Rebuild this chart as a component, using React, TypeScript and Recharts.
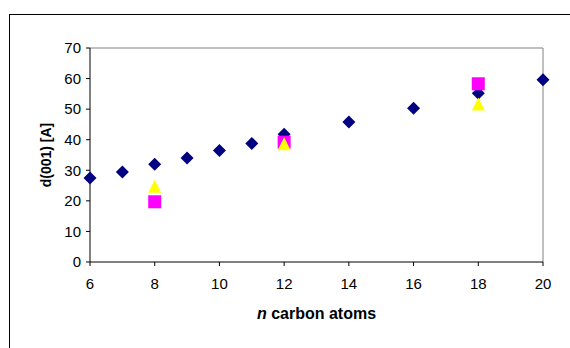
import React from "react";
import { ScatterChart, Scatter, XAxis, YAxis, ReferenceLine, Label } from "recharts";

const carbonBlue = [6, 7, 8, 9, 10, 11, 12, 14, 16, 18, 20];
const spacingBlue = [27.5, 29.4, 32, 34, 36.5, 38.8, 41.8, 45.8, 50.3, 55.2, 59.6];
const carbonPink = [8, 12, 18];
const spacingPink = [19.7, 39.2, 58.3];
const carbonYellow = [8, 12, 18];
const spacingYellow = [24.8, 38.7, 51.7];
const xTicks = [6, 8, 10, 12, 14, 16, 18, 20];
const yTicks = [0, 10, 20, 30, 40, 50, 60, 70];

const toPoints = (xs: number[], ys: number[]) => xs.map((n, i) => ({ n, d: ys[i] }));
const blueData = toPoints(carbonBlue, spacingBlue);
const pinkData = toPoints(carbonPink, spacingPink);
const yellowData = toPoints(carbonYellow, spacingYellow);

const font = "'Liberation Sans', Arial, sans-serif";

const Diamond = (p: any) => (
  <polygon
    points={`${p.cx},${p.cy - 6.5} ${p.cx + 6.5},${p.cy} ${p.cx},${p.cy + 6.5} ${p.cx - 6.5},${p.cy}`}
    fill="#000080"
  />
);
const Square = (p: any) => <rect x={p.cx - 6.5} y={p.cy - 6.5} width={13} height={13} fill="#FF00FF" />;
const Triangle = (p: any) => (
  <polygon
    points={`${p.cx},${p.cy - 6.5} ${p.cx + 6.5},${p.cy + 6.5} ${p.cx - 6.5},${p.cy + 6.5}`}
    fill="#FFFF00"
  />
);

const XTitle = ({ viewBox }: any) => (
  <text
    x={viewBox.x + viewBox.width / 2}
    y={viewBox.y + 57}
    textAnchor="middle"
    fontFamily={font}
    fontSize={16}
    fontWeight="bold"
    fill="#000"
  >
    <tspan fontStyle="italic">n</tspan> carbon atoms
  </text>
);

const YTitle = ({ viewBox }: any) => {
  const x = viewBox.x + 51;
  const y = viewBox.y + viewBox.height / 2;
  return (
    <text
      x={x}
      y={y}
      transform={`rotate(-90, ${x}, ${y})`}
      textAnchor="middle"
      fontFamily={font}
      fontSize={14}
      fontWeight="bold"
      fill="#000"
    >
      d(001) [A]
    </text>
  );
};

export default function App() {
  const tick = { fill: "#000", fontSize: 15, fontFamily: font };
  return (
    <div style={{ position: "absolute", left: 0, top: 0, width: 570, height: 348, overflow: "hidden", background: "#fff" }}>
      <div style={{ position: "absolute", left: 9, top: 14, width: 600, height: 400, border: "1px solid #000" }} />
      <div style={{ position: "absolute", left: 0, top: 0 }}>
        <ScatterChart width={570} height={348} margin={{ top: 48, right: 27, bottom: 26, left: 0 }}>
          <XAxis
            type="number"
            dataKey="n"
            domain={[6, 20]}
            ticks={xTicks}
            interval={0}
            height={60}
            stroke="#000"
            tick={tick}
            tickSize={4}
            tickMargin={12}
          >
            <Label content={XTitle} />
          </XAxis>
          <YAxis
            type="number"
            dataKey="d"
            domain={[0, 70]}
            ticks={yTicks}
            interval={0}
            width={90}
            stroke="#000"
            tick={tick}
            tickSize={4}
            tickMargin={5}
          >
            <Label content={YTitle} />
          </YAxis>
          <ReferenceLine y={70} stroke="#808080" />
          <ReferenceLine x={20} stroke="#808080" />
          <Scatter data={blueData} shape={Diamond} isAnimationActive={false} />
          <Scatter data={pinkData} shape={Square} isAnimationActive={false} />
          <Scatter data={yellowData} shape={Triangle} isAnimationActive={false} />
        </ScatterChart>
      </div>
    </div>
  );
}
